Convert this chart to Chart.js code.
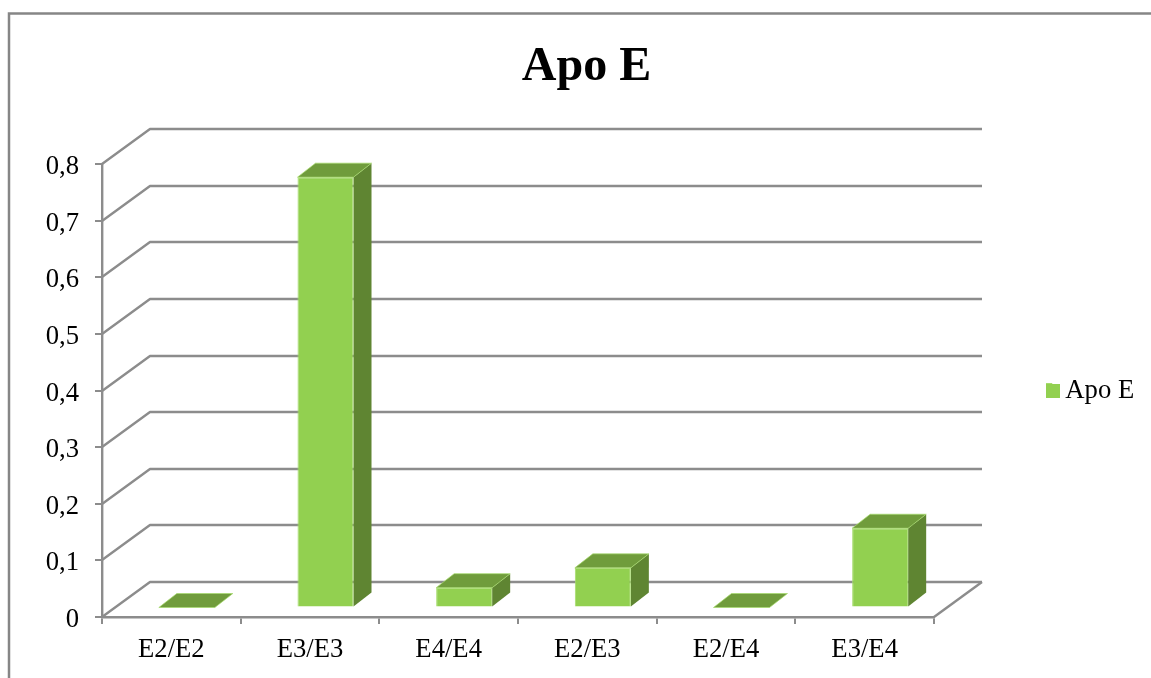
<!DOCTYPE html>
<html>
<head>
<meta charset="utf-8">
<title>Apo E</title>
<script src="https://cdn.jsdelivr.net/npm/chart.js@4"></script>
<style>
  html, body { margin: 0; padding: 0; background: #fff; overflow: hidden; }
  canvas { display: block; }
</style>
</head>
<body>
<canvas id="chart" width="1151" height="678"></canvas>
<script>
const genotypes = ['E2/E2', 'E3/E3', 'E4/E4', 'E2/E3', 'E2/E4', 'E3/E4'];
const apoEValues = [0, 0.76, 0.035, 0.07, 0, 0.14];

const SERIF = '"Liberation Serif", "Times New Roman", serif';
const TEXT = '#000000';
const AXIS = '#8c8c8c';
const FRONT = '#92D050';
const FRONT_EDGE = '#A6DC6C';
const TOP_FACE = '#709C3C';
const SIDE_FACE = '#5F8532';

// Depth of the floor and of each column, as seen in the oblique projection.
const FLOOR_DX = 48, FLOOR_DY = -35;
const BAR_SHIFT_X = 15.5, BAR_SHIFT_Y = -9.5;
const BAR_DX = 18, BAR_DY = -14;

const LEGEND_LEFT = 1046;
const SWATCH_SIZE = 14;
const SWATCH_STUB = 6;

const faces = {
  id: 'faces',
  beforeDraw(chart) {
    const { ctx } = chart;
    // Outer frame of the chart object; it runs past the page on two sides.
    ctx.save();
    ctx.strokeStyle = '#868686';
    ctx.lineWidth = 2.5;
    ctx.strokeRect(9, 13.5, 1300, 900);
    ctx.restore();
  },
  beforeDatasetsDraw(chart) {
    const { ctx, scales: { x, y } } = chart;
    const left = x.left, right = x.right;

    // Side wall diagonals and back wall lines, one per y tick.
    ctx.save();
    ctx.strokeStyle = AXIS;
    ctx.lineWidth = 2.4;
    ctx.lineJoin = 'round';
    y.ticks.forEach(t => {
      const py = Math.round(y.getPixelForValue(t.value));
      ctx.beginPath();
      ctx.moveTo(left, py);
      ctx.lineTo(left + FLOOR_DX, py + FLOOR_DY);
      ctx.lineTo(right + FLOOR_DX, py + FLOOR_DY);
      ctx.stroke();
    });
    // Right edge of the floor.
    const floor = Math.round(y.getPixelForValue(0));
    ctx.beginPath();
    ctx.moveTo(right, floor);
    ctx.lineTo(right + FLOOR_DX, floor + FLOOR_DY);
    ctx.stroke();
    ctx.restore();

    // Column side and top faces, then shift so the fronts land on the floor.
    ctx.save();
    ctx.translate(BAR_SHIFT_X, BAR_SHIFT_Y);
    ctx.lineWidth = 1;
    ctx.strokeStyle = 'rgba(166,220,108,0.7)';
    chart.getDatasetMeta(0).data.forEach(bar => {
      const l = bar.x - bar.width / 2, r = bar.x + bar.width / 2;
      const t = bar.y, b = bar.base;
      if (b - t > 0.5) {
        ctx.fillStyle = SIDE_FACE;
        ctx.beginPath();
        ctx.moveTo(r, t);
        ctx.lineTo(r + BAR_DX, t + BAR_DY);
        ctx.lineTo(r + BAR_DX, b + BAR_DY);
        ctx.lineTo(r, b);
        ctx.closePath();
        ctx.fill();
      }
      ctx.fillStyle = TOP_FACE;
      ctx.beginPath();
      ctx.moveTo(l, t);
      ctx.lineTo(l + BAR_DX, t + BAR_DY);
      ctx.lineTo(r + BAR_DX, t + BAR_DY);
      ctx.lineTo(r, t);
      ctx.closePath();
      ctx.fill();
      ctx.stroke();
    });
    ctx.restore();

    ctx.save();
    ctx.translate(BAR_SHIFT_X, BAR_SHIFT_Y);
  },
  afterDatasetsDraw(chart) {
    chart.ctx.restore();
  },
  afterLayout(chart) {
    // The legend sits well clear of the plot, centred on the plot's height.
    const legend = chart.legend;
    const w = legend.width;
    legend.left = LEGEND_LEFT;
    legend.right = LEGEND_LEFT + w;
    legend.top = chart.chartArea.top;
    legend.bottom = chart.chartArea.bottom;
    legend.legendHitBoxes.forEach(box => { box.left = 0; });
    legend.adjustHitBoxes();
  },
  afterDraw(chart) {
    // Widen the legend swatch without moving its label.
    const legend = chart.legend;
    const { ctx } = chart;
    const top = Math.round((legend.top + legend.bottom - SWATCH_SIZE) / 2);
    ctx.save();
    ctx.fillStyle = FRONT;
    ctx.fillRect(legend.left, top, SWATCH_SIZE, SWATCH_SIZE);
    ctx.restore();
  }
};

new Chart(document.getElementById('chart'), {
  type: 'bar',
  data: {
    labels: genotypes,
    datasets: [{
      label: 'Apo E',
      data: apoEValues,
      backgroundColor: FRONT,
      borderColor: FRONT_EDGE,
      borderWidth: 1,
      barPercentage: 0.404,
      categoryPercentage: 1,
      clip: false
    }]
  },
  plugins: [faces],
  options: {
    responsive: false,
    animation: false,
    layout: { padding: { left: 22, right: 0, top: 0, bottom: 0 } },
    plugins: {
      tooltip: { enabled: false },
      title: {
        display: true,
        text: 'Apo E',
        color: TEXT,
        font: { family: SERIF, size: 48, weight: 'bold', lineHeight: 1.2 },
        padding: { top: 39, bottom: 67.4 }
      },
      legend: {
        position: 'right',
        labels: {
          color: TEXT,
          font: { family: SERIF, size: 26.67 },
          boxWidth: SWATCH_STUB,
          boxHeight: SWATCH_SIZE,
          padding: 0
        }
      }
    },
    scales: {
      x: {
        afterFit(s) { s.height = 61; s.paddingRight = 217; s.paddingLeft = 0; },
        grid: { drawOnChartArea: false, drawTicks: true, tickLength: 7, color: AXIS, lineWidth: 2 },
        border: { display: true, color: AXIS, width: 2.4 },
        ticks: {
          color: TEXT,
          font: { family: SERIF, size: 26.67 },
          padding: 10,
          maxRotation: 0,
          autoSkip: false
        }
      },
      y: {
        min: 0,
        max: 0.8,
        afterFit(s) { s.width = 80; },
        grid: { drawOnChartArea: false, drawTicks: true, tickLength: 7, color: AXIS, lineWidth: 2 },
        border: { display: true, color: AXIS, width: 2.4 },
        ticks: {
          stepSize: 0.1,
          color: TEXT,
          font: { family: SERIF, size: 26.67 },
          padding: 16,
          labelOffset: 3,
          callback: v => String(Math.round(v * 10) / 10).replace('.', ',')
        }
      }
    }
  }
});
</script>
</body>
</html>
